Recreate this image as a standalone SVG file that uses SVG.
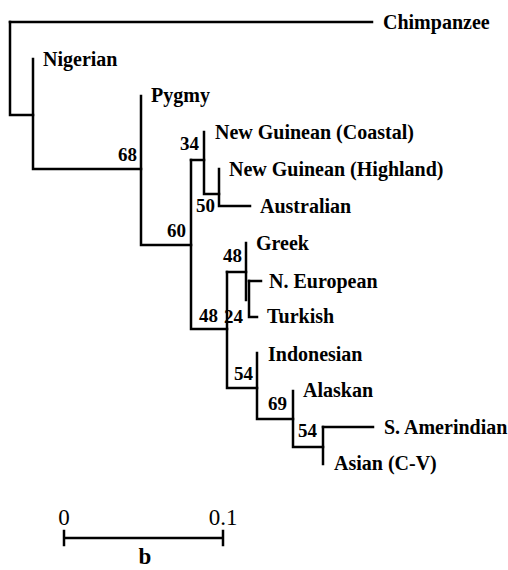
<svg xmlns="http://www.w3.org/2000/svg" width="508" height="570" viewBox="0 0 508 570">
<style>
.e{fill:none;stroke:#000;stroke-width:2.5;stroke-linecap:square}
.t{font-family:"Liberation Serif","Times New Roman",serif;font-size:20px;font-weight:bold;fill:#000}
.n{font-family:"Liberation Serif","Times New Roman",serif;font-size:19px;font-weight:bold;fill:#000;text-anchor:end}
.s{font-family:"Liberation Serif","Times New Roman",serif;font-size:23px;fill:#000;text-anchor:middle}
</style>
<rect width="508" height="570" fill="#fff"/>
<g id="connectors">
<path class="e" d="M10,22 H372"/>
<path class="e" d="M10,22 V115 H33"/>
<path class="e" d="M33,59 V169 H141"/>
<path class="e" d="M141,96 V245 H191"/>
<path class="e" d="M191,160 V329 H227"/>
<path class="e" d="M191,160 H204"/>
<path class="e" d="M204,132 V194 H219"/>
<path class="e" d="M219,169 V206 H250"/>
<path class="e" d="M227,272 H246"/>
<path class="e" d="M246,243 V300"/>
<path class="e" d="M249,281 V317 H257"/>
<path class="e" d="M249,281 H261"/>
<path class="e" d="M227,272 V388 H257"/>
<path class="e" d="M257,353 V419 H293"/>
<path class="e" d="M293,391 V447 H323"/>
<path class="e" d="M323,427 V464"/>
<path class="e" d="M323,427 H373"/>
</g>
<g id="chimpanzee"><text class="t" x="383" y="29" font-size="21">Chimpanzee</text></g>
<g id="nigerian"><text class="t" x="43" y="66">Nigerian</text></g>
<g id="pygmy"><text class="t" x="151" y="102">Pygmy</text></g>
<g id="ng-coastal"><text class="t" x="215" y="139">New Guinean (Coastal)</text></g>
<g id="ng-highland"><text class="t" x="229" y="176">New Guinean (Highland)</text></g>
<g id="australian"><text class="t" x="260" y="213">Australian</text></g>
<g id="greek"><text class="t" x="256" y="250">Greek</text></g>
<g id="n-european"><text class="t" x="269" y="288">N. European</text></g>
<g id="turkish"><text class="t" x="267" y="323">Turkish</text></g>
<g id="indonesian"><text class="t" x="268" y="361">Indonesian</text></g>
<g id="alaskan"><text class="t" x="303" y="397">Alaskan</text></g>
<g id="s-amerindian"><text class="t" x="384" y="434">S. Amerindian</text></g>
<g id="asian"><text class="t" x="334" y="470">Asian (C-V)</text></g>
<g id="bootstrap">
<text class="n" x="137" y="161">68</text>
<text class="n" x="186" y="237">60</text>
<text class="n" x="199" y="150">34</text>
<text class="n" x="215" y="212">50</text>
<text class="n" x="242" y="262">48</text>
<text class="n" x="218" y="322">48</text>
<text class="n" x="243" y="323">24</text>
<text class="n" x="253" y="380">54</text>
<text class="n" x="287" y="410">69</text>
<text class="n" x="317" y="437">54</text>
</g>
<g id="scale">
<path class="e" d="M64,538 H223 M64,531 V545 M223,531 V545"/>
<text class="s" x="64" y="525">0</text>
<text class="s" x="223" y="525">0.1</text>
<text class="s" x="145" y="564" font-size="22" font-weight="bold">b</text>
</g>
</svg>
